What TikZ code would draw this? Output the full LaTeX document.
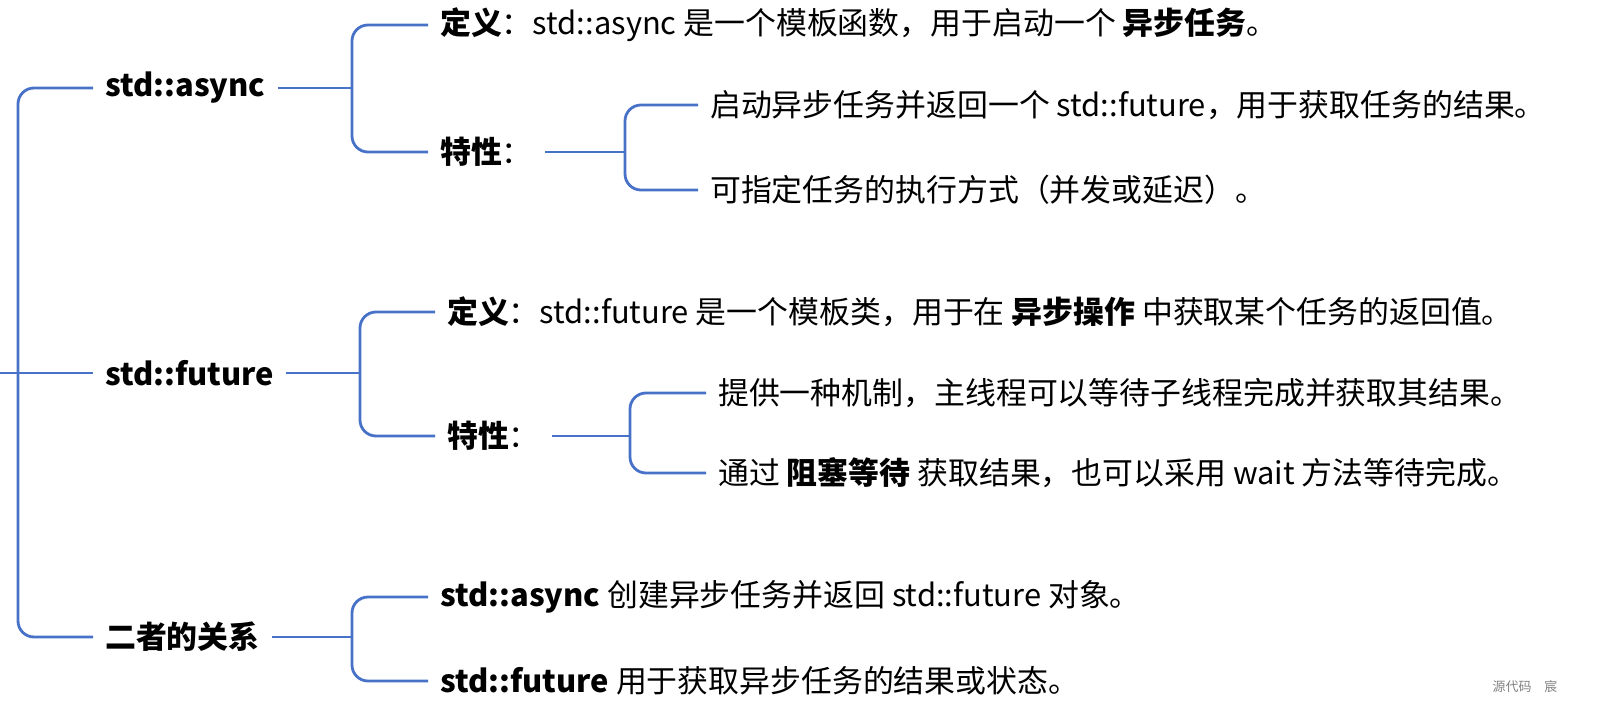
\documentclass[tikz,border=0pt]{standalone}
\usepackage{fontspec}
\setmainfont{Noto Sans CJK SC}
\definecolor{bl}{RGB}{72,114,200}
\begin{document}
\begin{tikzpicture}[x=1bp,y=-1bp,
  t/.style={anchor=west,inner xsep=12bp,inner ysep=0pt,font=\fontsize{31}{35}\selectfont},
  tb/.style={t,font=\fontsize{31}{35}\selectfont\bfseries},
  br/.style={draw=bl,line width=2.8bp,rounded corners=16bp}]
\useasboundingbox (0,0) rectangle (1621,726);
% level 1
\node[tb] (a) at (93,88) {std::async};
\node[tb] (f) at (93,373) {std::future};
\node[tb] (r) at (93,637) {二者的关系};
\coordinate (root) at (0,373);
\draw[br] (a.west) -| (18,373) |- (r.west);
\draw[br] (root) -- (f.west);
% async
\node[t] (ad) at (428,25) {\textbf{定义}：std::async 是一个模板函数，用于启动一个 \textbf{异步任务}。};
\node[tb] (at) at (428,152) {特性\mdseries：};
\draw[br] (a.east) -- (352,88);
\draw[br] (ad.west) -| (352,88) |- (at.west);
\node[t] (a1) at (698,105) {启动异步任务并返回一个 std::future，用于获取任务的结果。};
\node[t] (a2) at (698,190) {可指定任务的执行方式（并发或延迟）。};
\draw[br] (at.east) -- (625,152);
\draw[br] (a1.west) -| (625,152) |- (a2.west);
% future
\node[t] (fd) at (435,312) {\textbf{定义}：std::future 是一个模板类，用于在 \textbf{异步操作} 中获取某个任务的返回值。};
\node[tb] (ft) at (435,436) {特性\mdseries：};
\draw[br] (f.east) -- (360,373);
\draw[br] (fd.west) -| (360,373) |- (ft.west);
\node[t] (f1) at (706,393) {提供一种机制，主线程可以等待子线程完成并获取其结果。};
\node[t] (f2) at (706,473) {通过 \textbf{阻塞等待} 获取结果，也可以采用 wait 方法等待完成。};
\draw[br] (ft.east) -- (630,436);
\draw[br] (f1.west) -| (630,436) |- (f2.west);
% relation
\node[t] (r1) at (428,597) {\textbf{std::async} 创建异步任务并返回 std::future 对象。};
\node[t] (r2) at (428,681) {\textbf{std::future} 用于获取异步任务的结果或状态。};
\draw[br] (r.east) -- (352,637);
\draw[br] (r1.west) -| (352,637) |- (r2.west);
\node[font=\fontsize{13}{15}\selectfont,text=gray] (wm) at (1525,687) {源代码\quad 宸};
\end{tikzpicture}
\end{document}
